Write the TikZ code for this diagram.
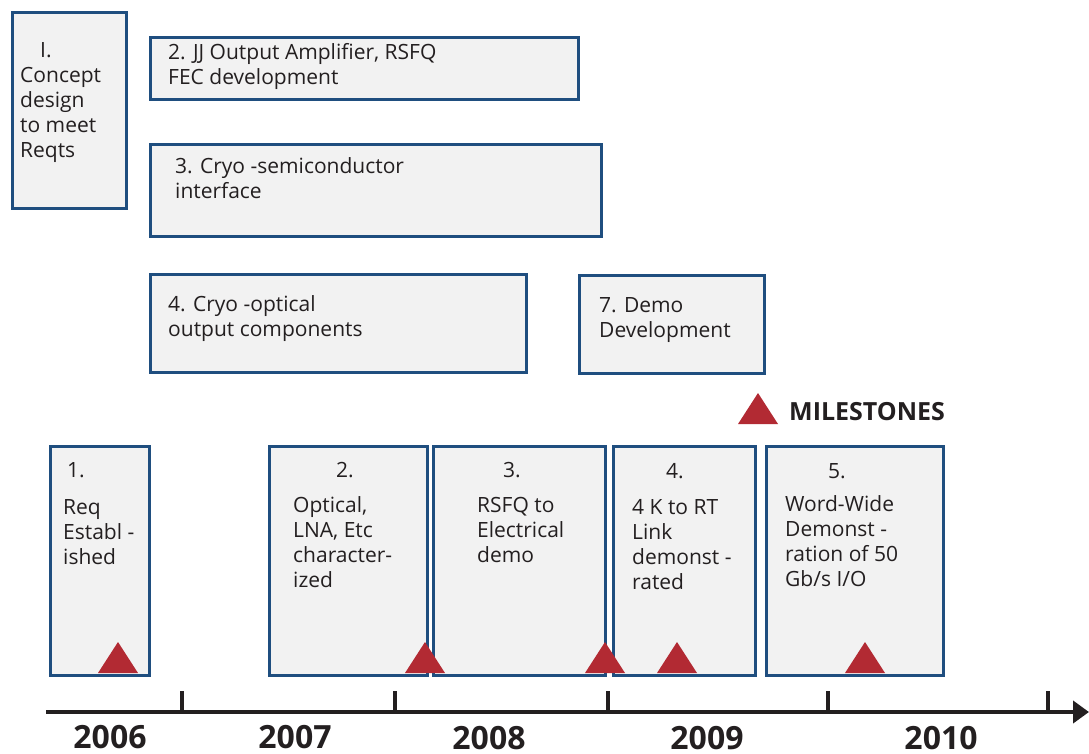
\documentclass[tikz,border=0pt]{standalone}
\usepackage{fontspec}
\setmainfont{Open Sans}
\usetikzlibrary{positioning, arrows.meta, calc}
\definecolor{boxblue}{HTML}{1F4E7F}
\definecolor{boxfill}{HTML}{F2F2F2}
\definecolor{milered}{HTML}{B22A33}
\definecolor{inkgray}{HTML}{231F20}

\begin{document}
\begin{tikzpicture}[x=1pt, y=-1pt,
    phase/.style={draw=boxblue, fill=boxfill, line width=3pt, anchor=north west, inner sep=0pt},
    txt/.style={anchor=north west, align=left, inner sep=0pt, text=inkgray,
        font=\fontsize{21}{25}\selectfont, execute at begin node=\strut},
    year/.style={anchor=base, inner sep=0pt, text=inkgray, font=\fontsize{32}{32}\selectfont\bfseries},
    tick/.style={line width=4pt, draw=inkgray}]
    \useasboundingbox (0,0) rectangle (1089,753);

    \node[phase, minimum width=114pt, minimum height=196pt] (p1) at (11,11) {};
    \node[phase, minimum width=428pt, minimum height=62pt] (p2) at (149,36) {};
    \node[phase, minimum width=451pt, minimum height=92pt] (p3) at (149,143) {};
    \node[phase, minimum width=376pt, minimum height=98pt] (p4) at (149,273) {};
    \node[phase, minimum width=185pt, minimum height=98pt] (p7) at (578,274) {};

    \node[txt] (t1) at ($(p1.north west)+(9,31)$) {\hspace*{20pt}I.\\Concept\\design\\to meet\\Reqts};
    \node[txt] (t2) at ($(p2.north west)+(19,7)$) {2. JJ Output Amplifier, RSFQ\\FEC development};
    \node[txt] (t3) at ($(p3.north west)+(26,14)$) {3. Cryo -semiconductor\\interface};
    \node[txt] (t4) at ($(p4.north west)+(19,22)$) {4. Cryo -optical\\output components};
    \node[txt] (t7) at ($(p7.north west)+(21,23)$) {7. Demo\\Development};

    \node[phase, minimum width=99pt, minimum height=229pt] (m1) at (49,445) {};
    \node[phase, minimum width=158pt, minimum height=229pt] (m2) at (268,445) {};
    \node[phase, minimum width=172pt, minimum height=229pt] (m3) [right=3pt of m2] {};
    \node[phase, minimum width=142pt, minimum height=229pt] (m4) at (612,445) {};
    \node[phase, minimum width=177pt, minimum height=229pt] (m5) [right=8pt of m4] {};

    \node[txt] (n1) at ($(m1.north west)+(14,17)$) {\hspace*{4pt}1.\\[12pt]Req\\Establ -\\ished};
    \node[txt] (n2) at ($(m2.north west)+(25,17)$) {\hspace*{43pt}2.\\[10pt]Optical,\\LNA, Etc\\character-\\ized};
    \node[txt] (n3) at ($(m3.north west)+(45,17)$) {\hspace*{26pt}3.\\[10pt]RSFQ to\\Electrical\\demo};
    \node[txt] (n4) at ($(m4.north west)+(20,18)$) {\hspace*{34pt}4.\\[11pt]4 K to RT\\Link\\demonst -\\rated};
    \node[txt] (n5) at ($(m5.north west)+(20,18)$) {\hspace*{43pt}5.\\[8pt]Word-Wide\\Demonst -\\ration of 50\\Gb/s I/O};

    \foreach \x in {118,425,605,677,865}
        \fill[milered] (\x-20,673) -- (\x,642) -- (\x+20,673) -- cycle;

    \fill[milered] (738,424) -- (758,393) -- (778,424) -- cycle;
    \node[anchor=base west, inner sep=0pt, text=inkgray, font=\fontsize{25}{25}\selectfont\bfseries] (mlab) at (789,420) {MILESTONES};

    \coordinate (ax0) at (46,712);
    \coordinate (ax1) at (1089,712);
    \draw[line width=4pt, draw=inkgray, -{Triangle[length=16pt, width=22pt]}] (ax0) -- (ax1);
    \foreach \x in {182,395,608,828,1048}
        \draw[tick] (\x,712) -- (\x,691);

    \node[year] (y6) at (110,748) {2006};
    \node[year] (y7) at (295,748) {2007};
    \node[year] (y8) at (489,749) {2008};
    \node[year] (y9) at (707,749) {2009};
    \node[year] (y10) at (941,749) {2010};
\end{tikzpicture}
\end{document}
